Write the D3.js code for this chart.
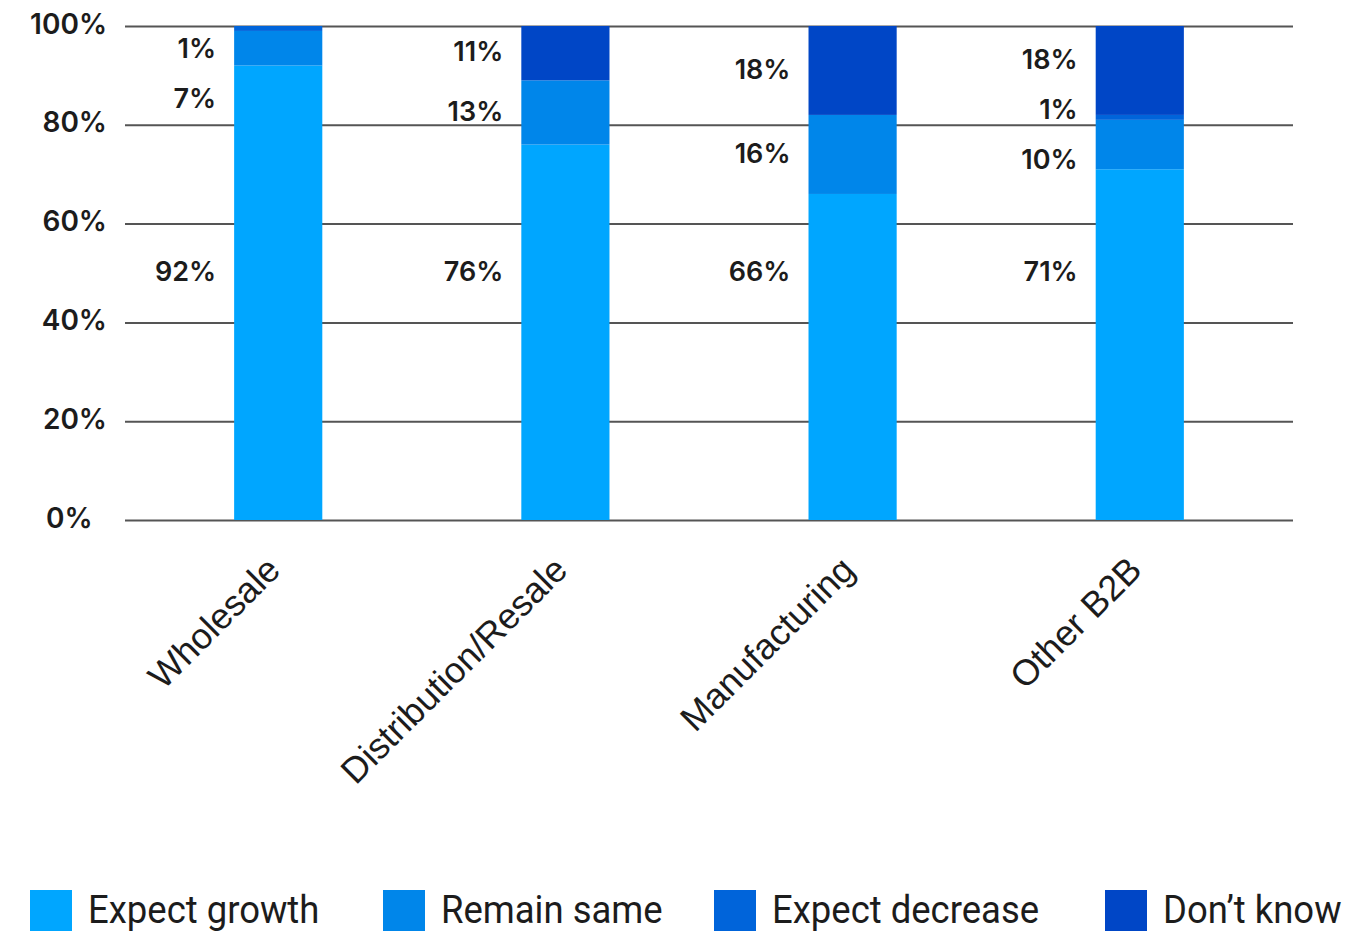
<!DOCTYPE html>
<html>
<head>
<meta charset="utf-8">
<script src="https://cdn.jsdelivr.net/npm/d3@7/dist/d3.min.js"></script>
<style>
  html, body { margin: 0; padding: 0; background: #fff; }
  svg { display: block; }
</style>
</head>
<body>
<svg id="chart" width="1360" height="931"></svg>
<script>
// Survey outlook by business type (percent of respondents)
const categories = ["Wholesale", "Distribution/Resale", "Manufacturing", "Other B2B"];
const seriesNames = ["Expect growth", "Remain same", "Expect decrease", "Don\u2019t know"];
const expectGrowth   = [92, 76, 66, 71];
const remainSame     = [7, 13, 16, 10];
const expectDecrease = [1, 0, 0, 1];
const dontKnow       = [0, 11, 18, 18];
const yTicks = [0, 20, 40, 60, 80, 100];

const colors = ["#00a6ff", "#0086ea", "#0064da", "#0046c6"];
const seriesValues = [expectGrowth, remainSame, expectDecrease, dontKnow];

const rows = categories.map((c, i) => {
  const r = { category: c };
  seriesNames.forEach((s, k) => { r[s] = seriesValues[k][i]; });
  return r;
});

const svg = d3.select("#chart");
const plotLeft = 125, plotRight = 1293, plotTop = 26, plotBottom = 520;

const x = d3.scaleBand().domain(categories).range([plotLeft, plotRight])
  .paddingInner(0.693).paddingOuter(0.38);
const y = d3.scaleLinear().domain([0, 100]).range([plotBottom, plotTop]);
const color = d3.scaleOrdinal().domain(seriesNames).range(colors);

const stacked = d3.stack().keys(seriesNames)(rows);

// Horizontal gridlines with percentage labels
const yAxis = d3.axisLeft(y).tickValues(yTicks).tickSize(-(plotRight - plotLeft))
  .tickFormat(d => d + "%").tickPadding(18);
const gy = svg.append("g").attr("transform", `translate(${plotLeft},0)`).call(yAxis);
gy.select(".domain").remove();
gy.selectAll(".tick line").attr("stroke", "#555").attr("stroke-width", 2);
gy.selectAll(".tick text")
  .attr("font-family", "Inter, sans-serif").attr("font-weight", 600)
  .attr("font-size", 28).attr("fill", "#1c1c1c")
  .attr("dy", "0.25em")
  .each(function(d) {
    if (d === 0) d3.select(this).attr("text-anchor", "start").attr("x", 46 - plotLeft);
  });

// Stacked bars
svg.append("g").selectAll("g").data(stacked).join("g")
  .attr("fill", d => color(d.key))
  .selectAll("rect").data(d => d.filter(p => p[1] - p[0] > 0)).join("rect")
  .attr("x", d => x(d.data.category))
  .attr("width", x.bandwidth())
  .attr("y", d => y(d[1]))
  .attr("height", d => y(d[0]) - y(d[1]));

// Value labels to the left of each bar
const minGap = 50;
const labelG = svg.append("g")
  .attr("font-family", "Inter, sans-serif").attr("font-weight", 600)
  .attr("font-size", 27).attr("fill", "#1c1c1c").attr("text-anchor", "end");

categories.forEach((c, i) => {
  const labels = [];
  stacked.forEach((s, k) => {
    const p = s[i];
    const v = p[1] - p[0];
    if (v <= 0) return;
    const cy = k === 0 ? y(50) : y((p[0] + p[1]) / 2);
    labels.push({ text: v + "%", y: cy, growth: k === 0 });
  });
  // spread the upper labels so they do not overlap
  const upper = labels.filter(l => !l.growth).sort((a, b) => a.y - b.y);
  const clusters = upper.map(l => ({ items: [l], center: l.y }));
  let merged = true;
  while (merged) {
    merged = false;
    for (let j = 0; j < clusters.length - 1; j++) {
      const a = clusters[j], b = clusters[j + 1];
      const aBottom = a.center + (a.items.length - 1) * minGap / 2;
      const bTop = b.center - (b.items.length - 1) * minGap / 2;
      if (bTop - aBottom < minGap) {
        const items = a.items.concat(b.items);
        const mean = d3.mean(items, l => l.y);
        clusters.splice(j, 2, { items, center: mean });
        merged = true;
        break;
      }
    }
  }
  let prev = -Infinity;
  clusters.forEach(cl => {
    let start = cl.center - (cl.items.length - 1) * minGap / 2;
    start = Math.max(start, 50, prev + minGap);
    cl.items.forEach((l, j) => { l.y = start + j * minGap; prev = l.y; });
  });
  labels.forEach(l => {
    labelG.append("text")
      .attr("x", x(c) - 18)
      .attr("y", l.y)
      .attr("dy", "0.3em")
      .text(l.text);
  });
});

// Rotated category labels
svg.append("g").selectAll("text").data(categories).join("text")
  .attr("font-family", "'Liberation Sans', Arial, sans-serif")
  .attr("font-size", 36).attr("fill", "#1c1c1c")
  .attr("text-anchor", "end")
  .attr("transform", d => `translate(${x(d) + x.bandwidth() / 2 + 4},${plotBottom + 52}) rotate(-45)`)
  .text(d => d);

// Legend
const legendX = [30, 383, 714, 1105];
const lg = svg.append("g").selectAll("g").data(seriesNames).join("g")
  .attr("transform", (d, i) => `translate(${legendX[i]},890)`);
lg.append("rect").attr("width", 42).attr("height", 42).attr("fill", d => color(d));
lg.append("text")
  .attr("transform", "translate(58,33) scale(0.96,1)")
  .attr("font-family", "Roboto, sans-serif").attr("font-size", 38).attr("fill", "#1c1c1c")
  .text(d => d);
</script>
</body>
</html>
